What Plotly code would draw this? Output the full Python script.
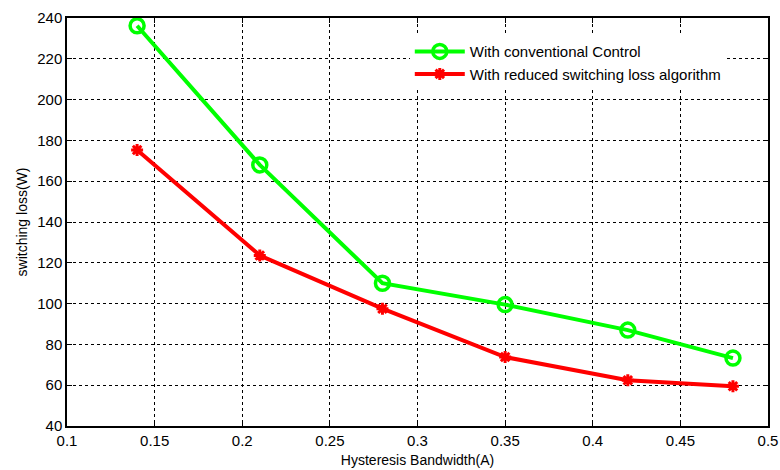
import plotly.graph_objects as go

# Hysteresis band widths (A) and measured switching losses (W)
bandwidth = [0.14, 0.21, 0.28, 0.35, 0.42, 0.48]
loss_conventional = [236.2, 168.0, 110.0, 99.5, 87.0, 73.3]
loss_reduced = [175.3, 123.6, 97.5, 73.8, 62.4, 59.5]

x_ticks = [0.1, 0.15, 0.2, 0.25, 0.3, 0.35, 0.4, 0.45, 0.5]
x_tick_text = ["0.1", "0.15", "0.2", "0.25", "0.3", "0.35", "0.4", "0.45", "0.5"]
y_ticks = [40, 60, 80, 100, 120, 140, 160, 180, 200, 220, 240]

FONT = "Liberation Sans, Arial, Helvetica, sans-serif"

fig = go.Figure()

fig.add_trace(go.Scatter(
    x=bandwidth, y=loss_conventional, mode="lines+markers",
    name="With conventional Control",
    line=dict(color="#00ff00", width=4),
    marker=dict(symbol="circle-open", size=14, color="#00ff00",
                line=dict(color="#00ff00", width=3.5)),
))

fig.add_trace(go.Scatter(
    x=bandwidth, y=loss_reduced, mode="lines+markers",
    name="With reduced switching loss algorithm",
    line=dict(color="#ff0000", width=4),
    marker=dict(symbol="asterisk-open", size=10, color="#ff0000",
                line=dict(color="#ff0000", width=3)),
))

axis_common = dict(
    showline=True, linecolor="black", linewidth=1.5, mirror="ticks",
    ticks="inside", ticklen=5, tickwidth=1, tickcolor="black",
    showgrid=True, gridcolor="black", gridwidth=1, griddash="dot",
    zeroline=False, automargin=False,
    tickfont=dict(family=FONT, size=15, color="black"),
)

fig.update_xaxes(
    range=[0.1, 0.5], tickvals=x_ticks, ticktext=x_tick_text,
    title=dict(text="Hysteresis Bandwidth(A)", standoff=7,
               font=dict(family=FONT, size=14, color="black")),
    **axis_common,
)
fig.update_yaxes(
    range=[40, 240], tickvals=y_ticks,
    title=dict(text="switching loss(W)", standoff=6,
               font=dict(family=FONT, size=14, color="black")),
    **axis_common,
)

fig.update_layout(
    width=780, height=470,
    margin=dict(l=67, r=12, t=18, b=44),
    paper_bgcolor="white", plot_bgcolor="white",
    font=dict(family=FONT, size=14, color="black"),
    legend=dict(
        x=0.489, y=0.958, xanchor="left", yanchor="top",
        bgcolor="white", borderwidth=0,
        font=dict(family=FONT, size=15, color="black"),
        tracegroupgap=0, itemwidth=50,
    ),
)

fig.write_html("out.html")
